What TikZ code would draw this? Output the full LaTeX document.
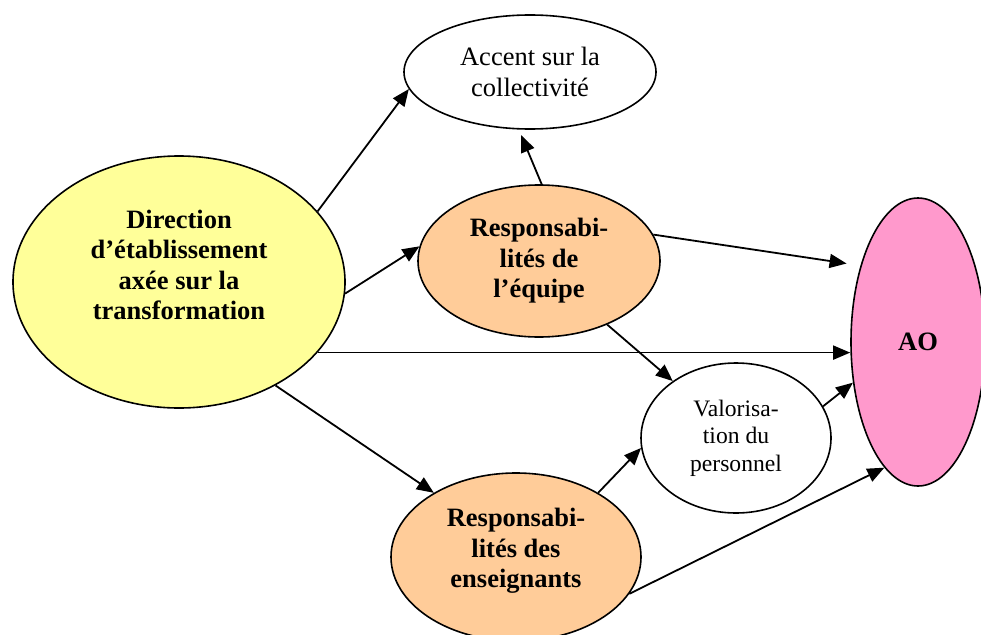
\documentclass[tikz,border=0pt]{standalone}
\usepackage{fontspec}
\setmainfont{Liberation Serif}
\usetikzlibrary{shapes.geometric, arrows.meta}
\definecolor{yelfill}{HTML}{FFFF99}
\definecolor{orafill}{HTML}{FFCC99}
\definecolor{pinkfill}{HTML}{FF99CC}
\begin{document}
\begin{tikzpicture}[x=1pt,y=-1pt,
  bubble/.style={ellipse, draw, line width=1.6pt, inner sep=0pt},
  bigtext/.style={font=\fontsize{26.5}{30.5}\selectfont\bfseries, align=center},
  plaintext/.style={font=\fontsize{26.5}{31}\selectfont, align=center},
  smalltext/.style={font=\fontsize{23.6}{27.5}\selectfont, align=center},
  conn/.style={line width=1.8pt, -{Triangle[length=17pt,width=14pt]}}]
\clip (0,0) rectangle (981,634);
\node[bubble, plaintext, minimum width=252pt, minimum height=114pt] (acc) at (530,72) {Accent sur la\\collectivité};
\node[bubble, fill=yelfill, minimum width=332pt, minimum height=252pt] (yel) at (179,282) {};
\node[bigtext] (yeltext) at (179,265) {Direction\\d’établissement\\axée sur la\\transformation};
\node[bubble, bigtext, fill=orafill, minimum width=242pt, minimum height=152pt] (equ) at (539,261) {Responsabi-\\lités de\\l’équipe};
\node[bubble, bigtext, fill=pinkfill, minimum width=134pt, minimum height=288pt] (ao) at (918,342) {AO};
\node[bubble, smalltext, minimum width=190pt, minimum height=150pt] (val) at (736,438) {Valorisa-\\tion du\\personnel};
\node[bubble, fill=orafill, minimum width=250pt, minimum height=168pt] (ens) at (516,557) {};
\node[bigtext] (enstext) at (516,551) {Responsabi-\\lités des\\enseignants};
\draw[conn] (yel.27.4) -- (acc.188.3);
\draw[conn, shorten >=6pt] (equ.88.5) -- (acc.259.2);
\draw[conn] (yel.356.3) -- (equ.173.2);
\draw[conn, shorten >=14pt] (equ.13.6) -- (ao.127.4);
\draw[conn] (yel.333.1) -- (yel.333.1 -| ao.west);
\draw[conn] (equ.317.5) -- (val.138.7);
\draw[conn] (yel.313.2) -- (ens.142.6);
\draw[conn] (ens.38.6) -- (val.186.6);
\draw[conn] (val.20) -- (ao.212.9);
\draw[conn] (ens.342.9) -- (ao.255.3);
\end{tikzpicture}
\end{document}
